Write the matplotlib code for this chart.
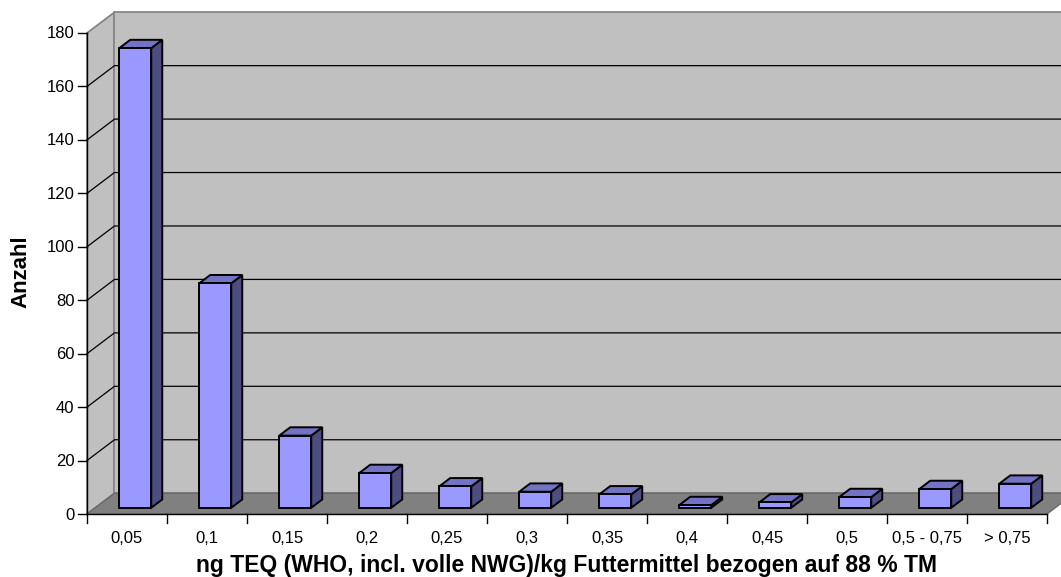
import matplotlib
matplotlib.use("Agg")
import matplotlib.pyplot as plt
from matplotlib.patches import Polygon

plt.rcParams['font.family'] = ['Liberation Sans', 'DejaVu Sans']

categories = ["0,05", "0,1", "0,15", "0,2", "0,25", "0,3", "0,35", "0,4",
              "0,45", "0,5", "0,5 - 0,75", "> 0,75"]
counts = [172, 84, 27, 13, 8, 6, 5, 1, 2, 4, 7, 9]
y_ticks = [0, 20, 40, 60, 80, 100, 120, 140, 160, 180]
x_title = "ng TEQ (WHO, incl. volle NWG)/kg Futtermittel bezogen auf 88 % TM"
y_title = "Anzahl"

W, H = 1061, 577
fig = plt.figure(figsize=(W / 100, H / 100), dpi=100)
ax = fig.add_axes([0, 0, 1, 1])
ax.set_axis_off()

# pixel geometry of the plot box
x0_px, cat_px = 87, 80
y0_px, unit_px = 514, 481 / 180
ax.set_xlim(-x0_px / cat_px, (W - x0_px) / cat_px)
ax.set_ylim(-(H - y0_px) / unit_px, y0_px / unit_px)

n = len(categories)
ymax = y_ticks[-1]
DX = 27.5 / cat_px      # depth offset in category units
DY = 20.8 / unit_px     # depth offset in value units
px_x = 1 / cat_px
px_y = 1 / unit_px

wall_col = "#C0C0C0"
floor_col = "#808080"
edge_col = "#808080"

# walls and floor
ax.add_patch(Polygon([(0, 0), (0, ymax), (DX, ymax + DY), (DX, DY)],
                     closed=True, fc=wall_col, ec=edge_col, lw=1.2, zorder=1))
ax.add_patch(Polygon([(DX, DY), (n + DX, DY), (n + DX, ymax + DY), (DX, ymax + DY)],
                     closed=True, fc=wall_col, ec=edge_col, lw=1.2, zorder=1))
ax.add_patch(Polygon([(0, 0), (n, 0), (n + DX, DY), (DX, DY)],
                     closed=True, fc=floor_col, ec="#6a6a6a", lw=1.0, zorder=2))

# gridlines on side and back walls
for v in y_ticks[1:-1]:
    ax.plot([0, DX, n + DX], [v, v + DY, v + DY], color="black", lw=0.9, zorder=2)

# bars
f0, f1 = 0.30, 0.70
hw = 0.2
front_col, top_col, side_col = "#9999FF", "#7373C4", "#4D4D80"
for i, v in enumerate(counts):
    c = i + 0.5
    xl = c - hw + f0 * DX
    xr = c + hw + f0 * DX
    yb = f0 * DY
    yt = v + f0 * DY
    ddx = (f1 - f0) * DX
    ddy = (f1 - f0) * DY
    kw = dict(closed=True, ec="black", lw=1.4, joinstyle="miter", zorder=5)
    ax.add_patch(Polygon([(xr, yb), (xr + ddx, yb + ddy), (xr + ddx, yt + ddy), (xr, yt)],
                         fc=side_col, **kw))
    ax.add_patch(Polygon([(xl, yt), (xr, yt), (xr + ddx, yt + ddy), (xl + ddx, yt + ddy)],
                         fc=top_col, **kw))
    ax.add_patch(Polygon([(xl, yb), (xr, yb), (xr, yt), (xl, yt)],
                         fc=front_col, **kw))

# value axis with ticks and labels
ax.plot([0, 0], [0, ymax], color="black", lw=1.0, zorder=6)
for v in y_ticks:
    ax.plot([-9 * px_x, 0], [v, v], color="black", lw=1.0, zorder=6)
    ax.text(-12.5 * px_x, v - 5.5 * px_y, str(v), ha="right", va="baseline",
            fontsize=12, zorder=6)

# category axis with ticks and labels
ax.plot([0, n], [0, 0], color="black", lw=1.0, zorder=6)
for i in range(n + 1):
    ax.plot([i, i], [0, -9 * px_y], color="black", lw=1.0, zorder=6)
for i, lab in enumerate(categories):
    ax.text(i + 0.5, -29 * px_y, lab, ha="center", va="baseline", fontsize=12, zorder=6)

ax.text(n / 2 - 1 * px_x, -58 * px_y, x_title, ha="center", va="baseline",
        fontsize=16.5, fontweight="bold")
ax.text(-66 * px_x, (y0_px - 272) * px_y, y_title, ha="center", va="center",
        rotation=90, fontsize=16, fontweight="bold")

fig.savefig("out.png", dpi=100)
